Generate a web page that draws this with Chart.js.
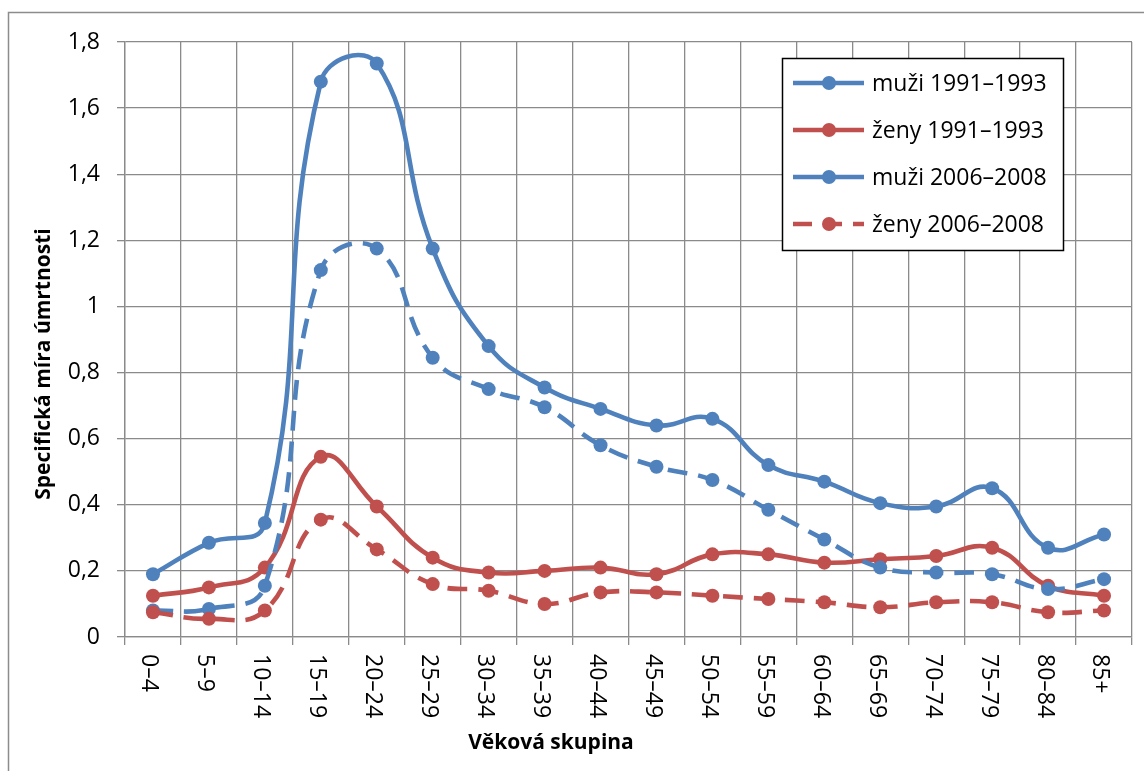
<!DOCTYPE html>
<html>
<head>
<meta charset="utf-8">
<script src="https://cdn.jsdelivr.net/npm/chart.js@4"></script>
<style>
  html, body { margin: 0; padding: 0; background: #fff; }
  #wrap { width: 1144px; height: 771px; }
</style>
</head>
<body>
<div id="wrap"><canvas id="c" width="1144" height="771"></canvas></div>
<script>
const categories = ['0–4','5–9','10–14','15–19','20–24','25–29','30–34','35–39','40–44','45–49','50–54','55–59','60–64','65–69','70–74','75–79','80–84','85+'];

const muzi1991 = [0.19, 0.285, 0.345, 1.68, 1.735, 1.175, 0.88, 0.755, 0.69, 0.64, 0.66, 0.52, 0.47, 0.405, 0.395, 0.45, 0.27, 0.31];
const zeny1991 = [0.125, 0.15, 0.21, 0.545, 0.395, 0.24, 0.195, 0.2, 0.21, 0.19, 0.25, 0.25, 0.225, 0.235, 0.245, 0.27, 0.155, 0.125];
const muzi2006 = [0.08, 0.085, 0.155, 1.11, 1.175, 0.845, 0.75, 0.695, 0.58, 0.515, 0.475, 0.385, 0.295, 0.21, 0.195, 0.19, 0.145, 0.175];
const zeny2006 = [0.075, 0.055, 0.08, 0.355, 0.265, 0.16, 0.14, 0.1, 0.135, 0.135, 0.125, 0.115, 0.105, 0.09, 0.105, 0.105, 0.075, 0.08];

const seriesNames = ['muži 1991–1993', 'ženy 1991–1993', 'muži 2006–2008', 'ženy 2006–2008'];
const yTicks = [0, 0.2, 0.4, 0.6, 0.8, 1, 1.2, 1.4, 1.6, 1.8];

const BLUE = '#4F81BD';
const RED = '#C0504D';
const GRID = '#8a8a8a';
const FONT = '"Open Sans", Lato, sans-serif';
const DASH = [20, 11];

function ds(label, data, color, dashed, order, legendDash) {
  return {
    label, data,
    borderColor: color, backgroundColor: color,
    pointBackgroundColor: color, pointBorderColor: color,
    borderWidth: 4.6, pointRadius: 7, pointHoverRadius: 7, pointBorderWidth: 0,
    borderDash: dashed ? DASH : [],
    tension: 0.45, fill: false, order,
    legendDash
  };
}

const framePlugin = {
  id: 'frame',
  beforeDraw(chart) {
    const ctx = chart.ctx;
    ctx.save();
    ctx.fillStyle = '#fff';
    ctx.fillRect(0, 0, chart.width, chart.height);
    ctx.strokeStyle = '#8c8c8c';
    ctx.lineWidth = 1.5;
    ctx.strokeRect(8.5, 12.5, chart.width + 20, chart.height + 20);
    ctx.restore();
  }
};

const labelsPlugin = {
  id: 'customLabels',
  afterDraw(chart) {
    const ctx = chart.ctx;
    const xs = chart.scales.x;
    ctx.save();
    ctx.fillStyle = '#000';
    ctx.font = '23px ' + FONT;
    ctx.textAlign = 'left';
    ctx.textBaseline = 'middle';
    categories.forEach((lab, i) => {
      const x = xs.getPixelForValue(i) - 4;
      ctx.save();
      ctx.translate(x, 654);
      ctx.rotate(Math.PI / 2);
      ctx.fillText(lab, 0, 0);
      ctx.restore();
    });
    // axis titles
    ctx.font = 'bold 21px ' + FONT;
    ctx.textAlign = 'center';
    ctx.textBaseline = 'middle';
    ctx.fillText('Věková skupina', 551, 743);
    ctx.save();
    ctx.translate(44, 364);
    ctx.rotate(-Math.PI / 2);
    ctx.fillText('Specifická míra úmrtnosti', 0, 0);
    ctx.restore();

    // legend
    const bx = 782, by = 58, bw = 281, bh = 192;
    ctx.fillStyle = '#fff';
    ctx.fillRect(bx, by, bw, bh);
    ctx.strokeStyle = '#000';
    ctx.lineWidth = 1.5;
    ctx.strokeRect(bx + 0.5, by + 0.5, bw, bh);
    const rows = [83, 130, 177, 224];
    chart.data.datasets.forEach((d, i) => {
      const y = rows[i];
      ctx.strokeStyle = d.borderColor;
      ctx.lineWidth = 4.6;
      ctx.lineCap = 'butt';
      ctx.setLineDash(d.legendDash);
      ctx.beginPath();
      ctx.moveTo(793, y);
      ctx.lineTo(864, y);
      ctx.stroke();
      ctx.setLineDash([]);
      ctx.fillStyle = d.borderColor;
      ctx.beginPath();
      ctx.arc(829, y, 7, 0, Math.PI * 2);
      ctx.fill();
      ctx.fillStyle = '#000';
      ctx.font = '23px ' + FONT;
      ctx.textAlign = 'left';
      ctx.textBaseline = 'middle';
      ctx.fillText(d.label, 872, y + 1);
    });
    ctx.restore();
  }
};

new Chart(document.getElementById('c'), {
  type: 'line',
  data: {
    labels: categories,
    datasets: [
      ds(seriesNames[0], muzi1991, BLUE, false, 3, []),
      ds(seriesNames[1], zeny1991, RED, false, 2, []),
      ds(seriesNames[2], muzi2006, BLUE, true, 1, []),
      ds(seriesNames[3], zeny2006, RED, true, 0, [19, 11])
    ]
  },
  options: {
    responsive: false,
    animation: false,
    devicePixelRatio: 1,
    layout: { padding: { left: 8, top: 42, right: 12, bottom: 0 } },
    plugins: { legend: { display: false }, tooltip: { enabled: false }, title: { display: false } },
    scales: {
      x: {
        type: 'category',
        offset: true,
        grid: { color: GRID, lineWidth: 1.3, offset: true, tickLength: 8, drawTicks: true },
        border: { color: GRID, width: 1.3 },
        ticks: { callback: () => '', autoSkip: false, maxRotation: 0 },
        afterFit(s) { s.height = 134; }
      },
      y: {
        min: 0, max: 1.8,
        afterBuildTicks(s) { s.ticks = yTicks.map(v => ({ value: v })); },
        grid: { color: GRID, lineWidth: 1.3, tickLength: 8 },
        border: { color: GRID, width: 1.3 },
        ticks: {
          color: '#000',
          padding: 17,
          font: { size: 23, family: FONT },
          callback: v => String(Math.round(v * 10) / 10).replace('.', ',')
        },
        afterFit(s) { s.width = 117; }
      }
    }
  },
  plugins: [framePlugin, labelsPlugin]
});
</script>
</body>
</html>
